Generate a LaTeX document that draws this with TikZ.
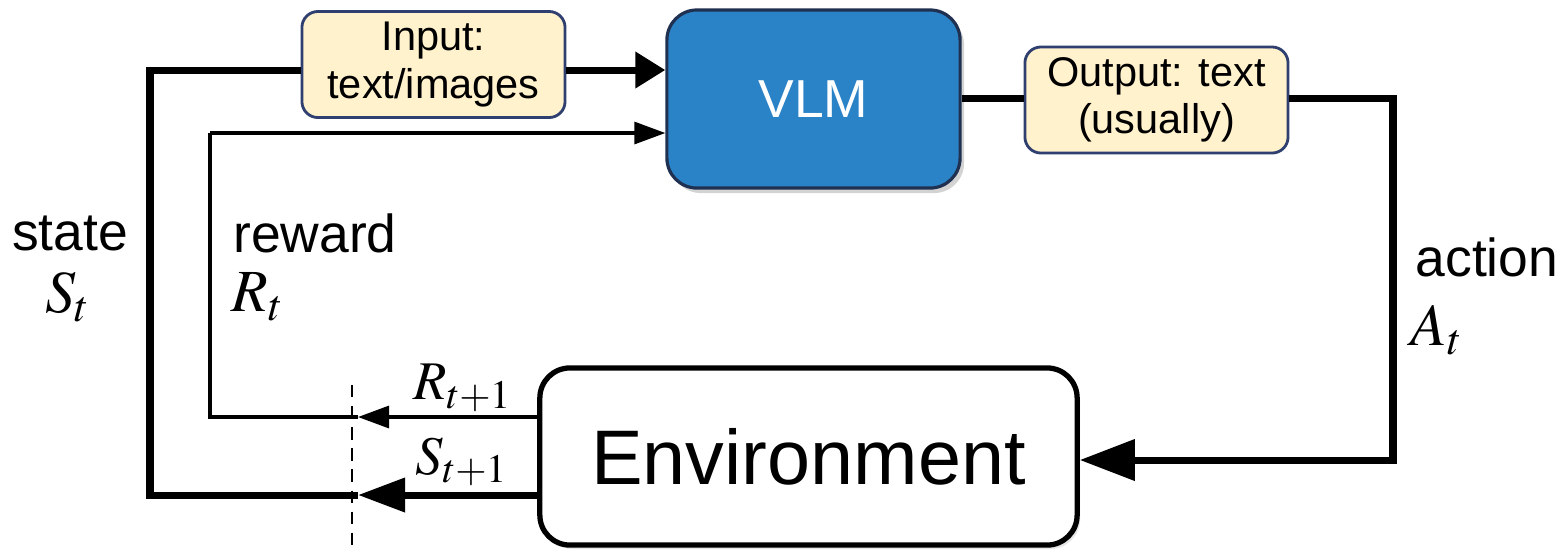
\documentclass[tikz,border=0pt]{standalone}
\usepackage{mathptmx}
\usepackage{fontspec}
\setmainfont{Liberation Sans}
\usetikzlibrary{arrows.meta,shadows,calc}
\definecolor{boxfill}{HTML}{FFF2CC}
\definecolor{boxline}{HTML}{2F3F6F}
\definecolor{vlmfill}{HTML}{2A82C7}
\definecolor{vlmline}{HTML}{1F3050}
\tikzset{
  ibox/.style={draw=boxline, fill=boxfill, line width=0.8pt, rounded corners=0.16cm,
    minimum width=2.63cm, minimum height=1.06cm, align=center, inner sep=0pt,
    font=\fontsize{11.8}{13.5}\selectfont},
  vlmbox/.style={draw=vlmline, fill=vlmfill, line width=0.9pt, rounded corners=0.3cm,
    minimum width=2.93cm, minimum height=1.78cm, text=white,
    font=\fontsize{15.2}{18}\selectfont,
    drop shadow={opacity=0.35, shadow xshift=0.04cm, shadow yshift=-0.05cm}},
  envbox/.style={draw=black, fill=white, line width=1.5pt, rounded corners=0.3cm,
    minimum width=5.37cm, minimum height=1.77cm,
    font=\fontsize{22}{26}\selectfont,
    drop shadow={opacity=0.2, shadow xshift=0.03cm, shadow yshift=-0.04cm}},
  lbl/.style={inner sep=0pt, font=\fontsize{15.2}{18}\selectfont},
  mlbl/.style={inner sep=0pt, font=\fontsize{17}{20}\selectfont},
  smlbl/.style={inner sep=0pt, font=\fontsize{15.5}{18}\selectfont},
  thickline/.style={line width=2pt},
  thinline/.style={line width=0.9pt},
  bigtip/.style={-{Triangle[length=0.3cm,width=0.35cm]}},
  envtip/.style={-{Triangle[length=0.55cm,width=0.4cm]}},
  stip/.style={-{Triangle[length=0.47cm,width=0.33cm]}},
  smalltip/.style={-{Triangle[length=0.31cm,width=0.22cm]}},
}
\begin{document}
\begin{tikzpicture}[x=0.01cm,y=-0.01cm]
\useasboundingbox (0,0) rectangle (1565,553);
% nodes
\node[ibox] (in) at (433.5,64.5) {Input:\\text/images};
\node[vlmbox] (vlm) at (813.5,99) {VLM};
\node[ibox] (out) at (1156.5,100) {Output: text\\(usually)};
\node[envbox] (env) at (808.5,456.5) {Environment};
% coordinates
\coordinate (sL) at (150,495);
\coordinate (sT) at (150,70);
\coordinate (rL) at (210,417);
\coordinate (rT) at (210,133);
\coordinate (aR) at (1393,98);
\coordinate (aB) at (1393,460);
\coordinate (cutR) at (358,417);
\coordinate (cutS) at (358,495);
\coordinate (dTop) at (352,385);
\coordinate (dBot) at (352,553);
% dashed separator
\draw[line width=0.8pt, dash pattern=on 3.5pt off 2.5pt] (dTop) -- (dBot);
% state loop
\draw[thickline, stip] (env.west |- cutS) -- (cutS);
\draw[thickline] (cutS) -- (sL) -- (sT) -- (in.west |- sT);
\draw[thickline, bigtip] (in.east |- sT) -- (vlm.west |- sT);
% reward loop
\draw[thinline, smalltip] (env.west |- cutR) -- (cutR);
\draw[thinline] (cutR) -- (rL) -- (rT);
\draw[thinline, smalltip] (rT) -- (vlm.west |- rT);
% action
\draw[thickline] (vlm.east |- aR) -- (out.west |- aR);
\draw[thickline, envtip] (out.east |- aR) -- (aR) -- (aB) -- (env.east |- aB);
% labels
\node[lbl] (state) at (70,233) {state};
\node[mlbl] (St) at (68,297) {$S_t$};
\node[lbl] (reward) at (315,233) {reward};
\node[mlbl] (Rt) at (258,297) {$R_t$};
\node[lbl] (action) at (1487,257) {action};
\node[mlbl] (At) at (1437,330) {$A_t$};
\node[smlbl] (Rt1) at (463,388) {$R_{t+1}$};
\node[smlbl] (St1) at (462,462) {$S_{t+1}$};
\end{tikzpicture}
\end{document}
